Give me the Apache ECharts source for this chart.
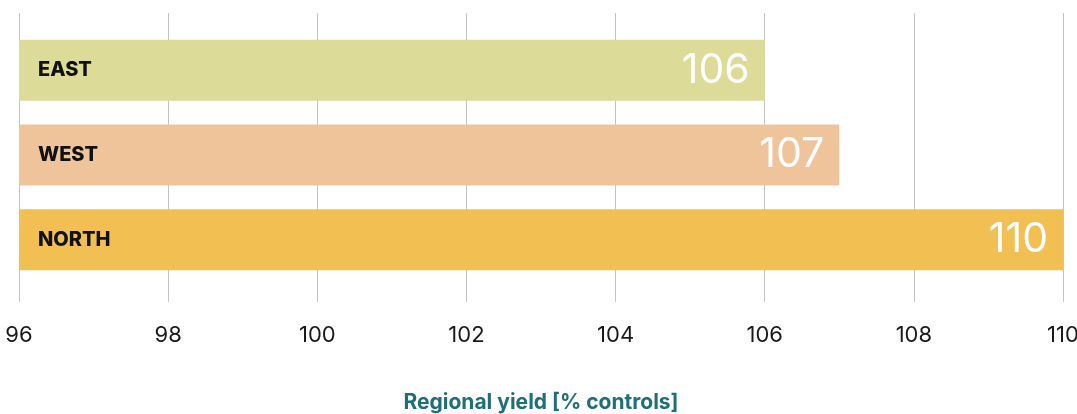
<!DOCTYPE html>
<html>
<head>
<meta charset="utf-8">
<script src="https://cdn.jsdelivr.net/npm/echarts@6/dist/echarts.min.js"></script>
<style>
  html, body { margin: 0; padding: 0; background: #fff; }
  #main { width: 1077px; height: 414px; }
</style>
</head>
<body>
<div id="main"></div>
<script>
var regions = ['EAST', 'WEST', 'NORTH'];
var yields = [106, 107, 110];
var barColors = ['#dcdc98', '#efc49b', '#f2bf52'];
var xTicks = { min: 96, max: 110, step: 2 };

var chart = echarts.init(document.getElementById('main'));

chart.setOption({
  animation: false,
  grid: [
    // bars
    { left: 19, right: 14, top: 28, height: 254, outerBoundsMode: 'none' },
    // gridlines + axis labels
    { left: 19, right: 14, top: 13, height: 289, outerBoundsMode: 'none' }
  ],
  xAxis: [
    { gridIndex: 0, type: 'value', min: xTicks.min, max: xTicks.max, interval: xTicks.step, show: false },
    {
      gridIndex: 1, type: 'value', min: xTicks.min, max: xTicks.max, interval: xTicks.step,
      axisLine: { show: false }, axisTick: { show: false },
      splitLine: { show: true, lineStyle: { color: '#c4c4c4', width: 1 } },
      axisLabel: { margin: 22, fontSize: 22, color: '#1a1a1a', fontFamily: 'Inter' },
      name: 'Regional yield [% controls]',
      nameLocation: 'middle',
      nameGap: 90,
      nameTextStyle: { fontSize: 21, fontWeight: 'bold', color: '#1f6f7b', fontFamily: 'Inter' }
    }
  ],
  yAxis: [
    {
      gridIndex: 0, type: 'category', data: regions, inverse: true, z: 10,
      axisLine: { show: false }, axisTick: { show: false }, splitLine: { show: false },
      axisLabel: { inside: true, margin: 19, fontSize: 20, fontWeight: 800, color: '#111', fontFamily: 'Inter' }
    },
    { gridIndex: 1, type: 'value', show: false }
  ],
  series: [{
    type: 'bar',
    xAxisIndex: 0,
    yAxisIndex: 0,
    barWidth: 61,
    data: yields.map(function (v, i) {
      return { value: v, itemStyle: { color: barColors[i] } };
    }),
    label: {
      show: true,
      position: 'insideRight',
      distance: 15,
      color: '#fff',
      fontSize: 41,
      fontFamily: 'Inter'
    }
  }]
});
</script>
</body>
</html>
